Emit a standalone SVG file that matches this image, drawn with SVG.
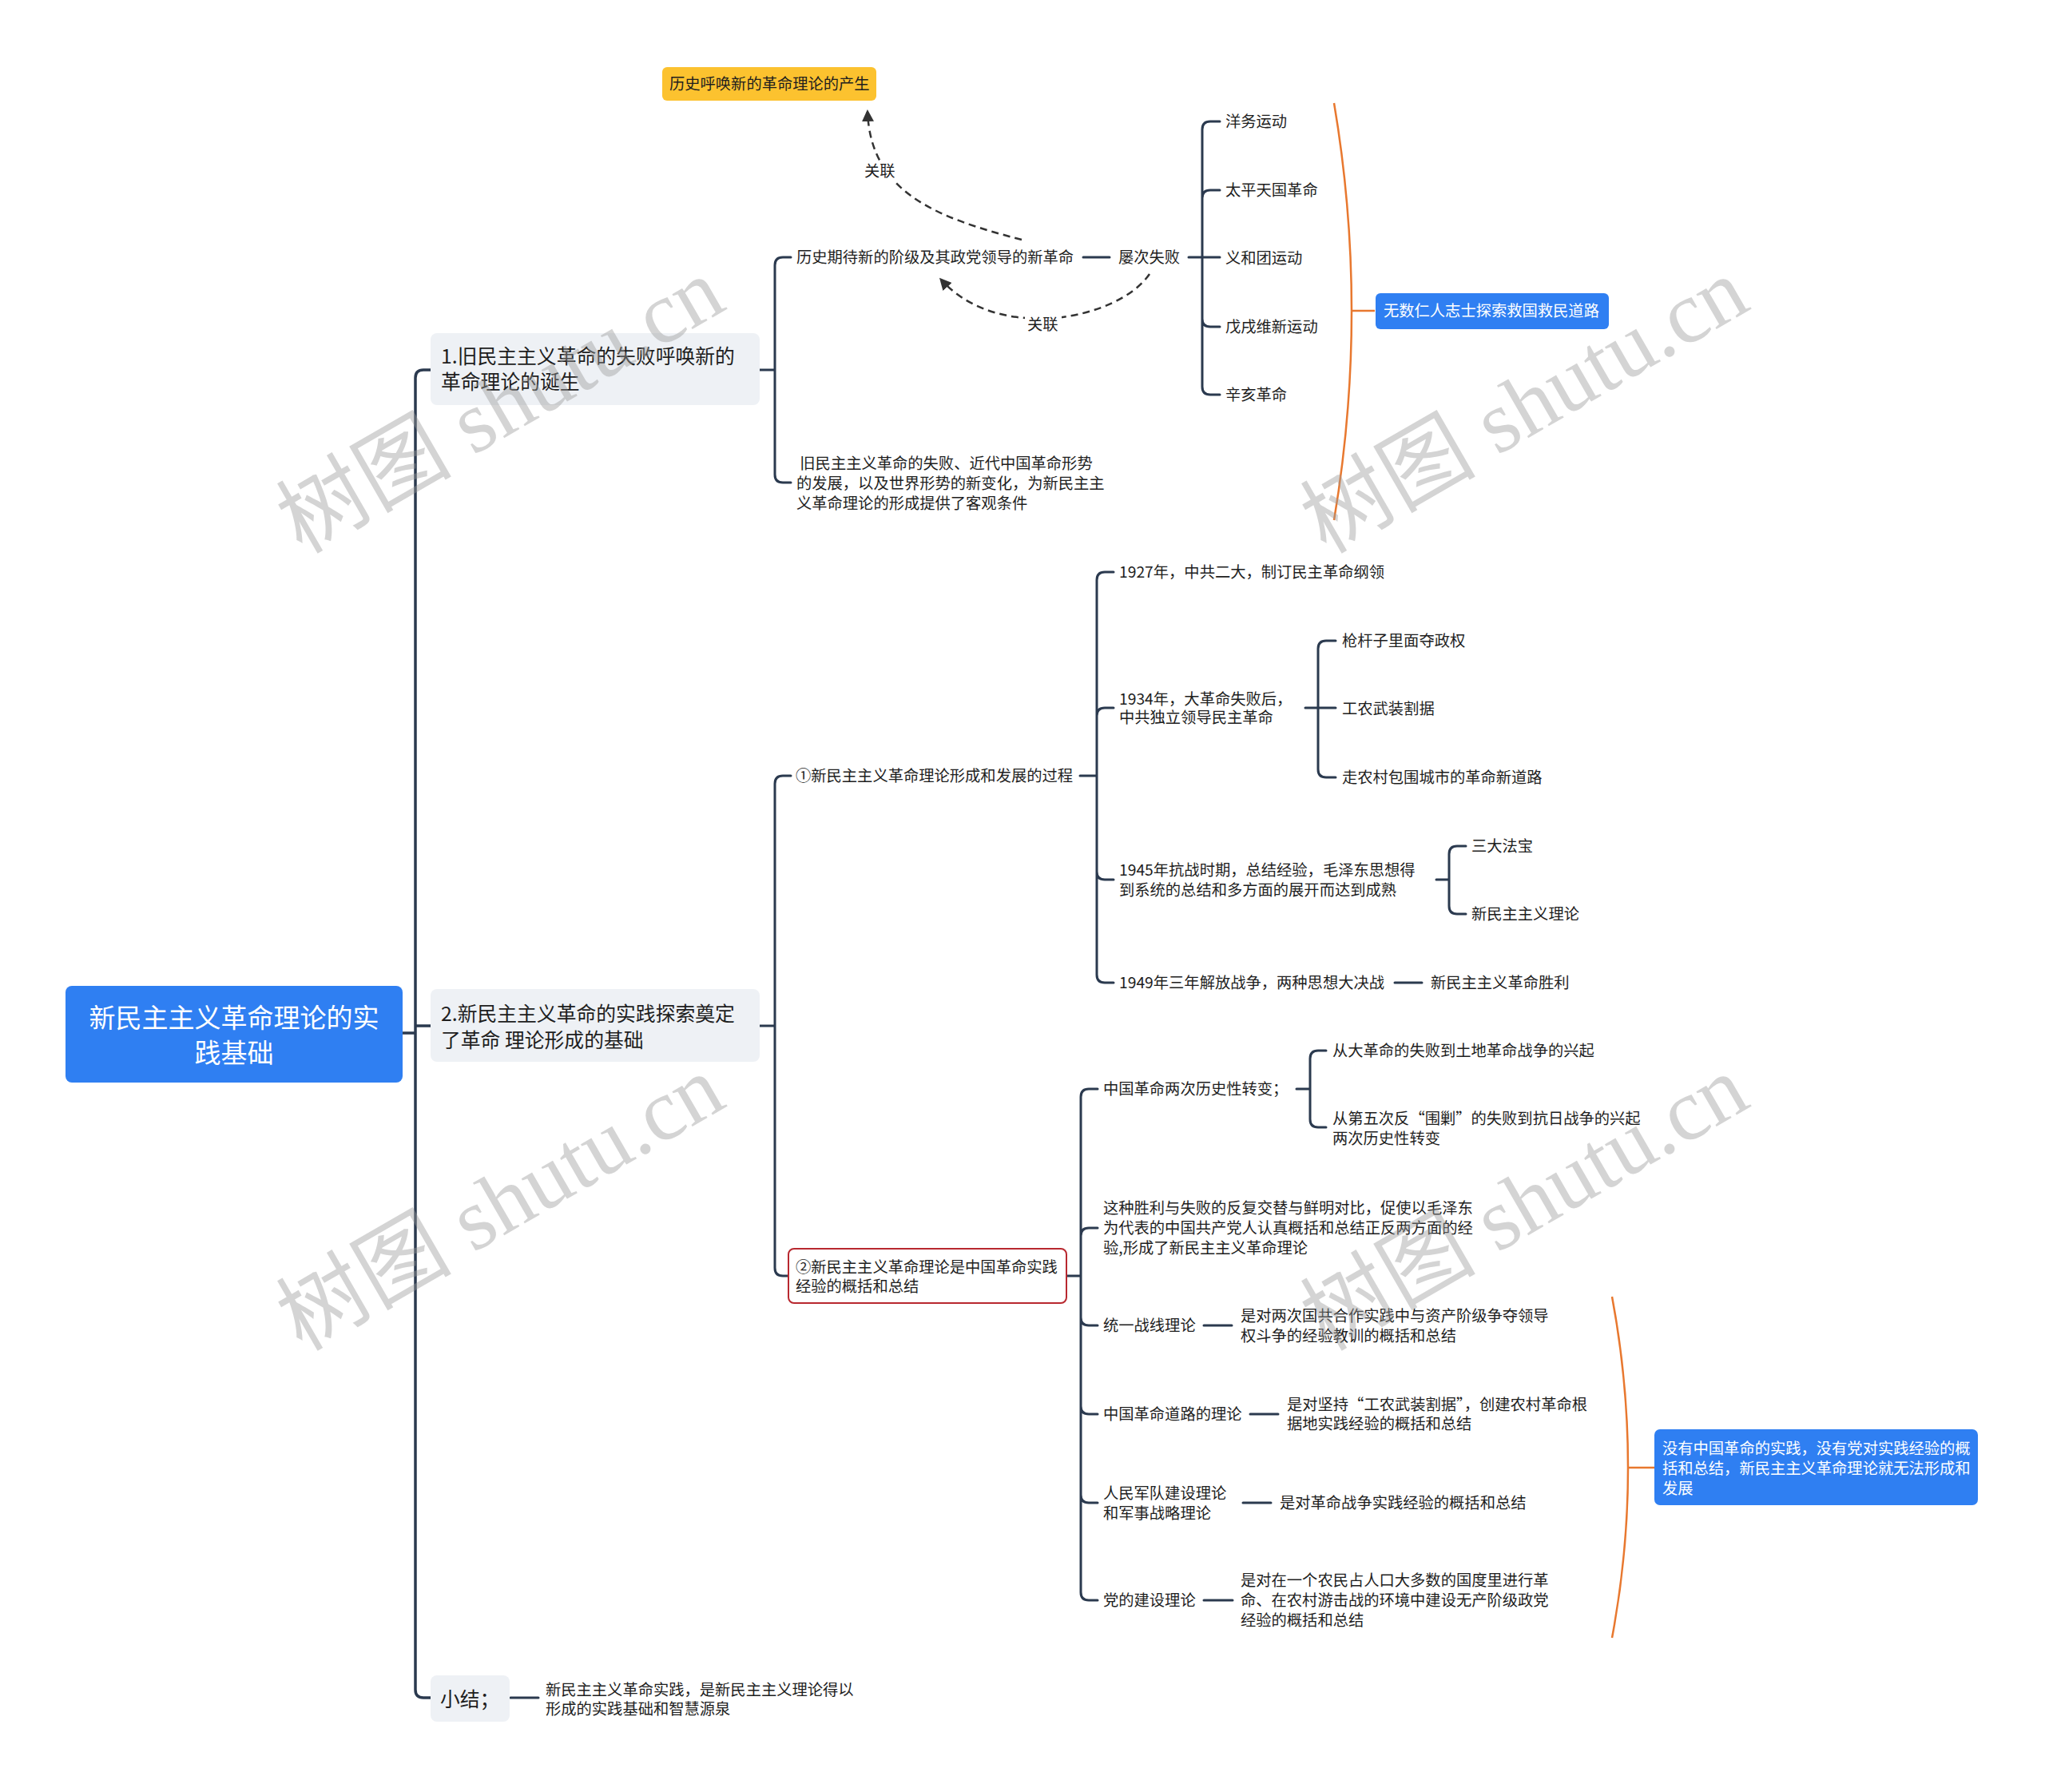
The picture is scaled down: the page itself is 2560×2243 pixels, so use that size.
<svg xmlns="http://www.w3.org/2000/svg" width="2560" height="2243" viewBox="0 0 2560 2243">
<defs>
<style>
.t{font-family:"Noto Sans CJK SC","Noto Sans",sans-serif;font-size:19.3px;fill:#1e1e1e;dominant-baseline:central;white-space:pre}
.tb{font-size:24.8px}
.tw{fill:#ffffff}
.lk{fill:none;stroke:#2b3a4f;stroke-width:3;stroke-linecap:round;stroke-linejoin:round}
.tr{stroke-width:3.5}
.br{fill:none;stroke:#e8782f;stroke-width:2.5}
.da{fill:none;stroke:#333333;stroke-width:2.5;stroke-dasharray:9 6}
.wm{font-family:"Liberation Serif","Noto Sans CJK SC",serif;font-size:110px;fill:#9a9a9a;opacity:0.42}
</style>
<marker id="ah" viewBox="0 0 10 10" refX="8" refY="5" markerWidth="6" markerHeight="6" orient="auto-start-reverse" markerUnits="strokeWidth">
<path d="M0,0 L10,5 L0,10 Z" fill="#333333"/>
</marker>
</defs>
<rect width="2560" height="2243" fill="#ffffff"/>

<g id="connectors">
<path class="lk tr" d="M504 1293 H520 M520 1293 V473 Q520 463 530 463 H539 M520 1284 H539 M520 1293 V2115 Q520 2125 530 2125 H539"/>
<path class="lk" d="M951 463 H970 M970 463 V332 Q970 322 980 322 H990 M970 463 V594 Q970 604 980 604 H990"/>
<path class="lk" d="M1356 322 H1389 M1488 322 H1505 M1505 322 V162 Q1505 152 1515 152 H1527 M1505 322 V248 Q1505 238 1515 238 H1527 M1505 322 H1527 M1505 322 V399 Q1505 409 1515 409 H1527 M1505 322 V484 Q1505 494 1515 494 H1527"/>
<path class="lk" d="M951 1284 H970 M970 1284 V981 Q970 971 980 971 H990 M970 1284 V1587 Q970 1597 980 1597 H987"/>
<path class="lk" d="M1352 971 H1373 M1373 971 V726 Q1373 716 1383 716 H1394 M1373 971 V896 Q1373 886 1383 886 H1394 M1373 971 V1091 Q1373 1101 1383 1101 H1394 M1373 971 V1220 Q1373 1230 1383 1230 H1394"/>
<path class="lk" d="M1634 886 H1650 M1650 886 V812 Q1650 802 1660 802 H1672 M1650 886 H1672 M1650 886 V963 Q1650 973 1660 973 H1672"/>
<path class="lk" d="M1798 1101 H1814 M1814 1101 V1069 Q1814 1059 1824 1059 H1835 M1814 1101 V1134 Q1814 1144 1824 1144 H1835"/>
<path class="lk" d="M1746 1230 H1780"/>
<path class="lk" d="M1335 1597 H1353 M1353 1597 V1373 Q1353 1363 1363 1363 H1374 M1353 1597 V1547 Q1353 1537 1363 1537 H1374 M1353 1597 V1649 Q1353 1659 1363 1659 H1374 M1353 1597 V1760 Q1353 1770 1363 1770 H1374 M1353 1597 V1871 Q1353 1881 1363 1881 H1374 M1353 1597 V1993 Q1353 2003 1363 2003 H1374"/>
<path class="lk" d="M1623 1363 H1640 M1640 1363 V1325 Q1640 1315 1650 1315 H1660 M1640 1363 V1401 Q1640 1411 1650 1411 H1660"/>
<path class="lk" d="M1507 1659 H1542 M1565 1770 H1600 M1556 1881 H1591 M1507 2003 H1543 M639 2125 H674"/>
<path class="br" d="M1670 129 Q1714 389 1670 651 M1692 389 H1721"/>
<path class="br" d="M2018 1623 Q2058 1837 2018 2050 M2038 1837 H2071"/>
<path class="da" d="M1279 300 C1170 272 1090 240 1086 140" marker-end="url(#ah)"/>
<path class="da" d="M1439 343 C1400 400 1250 430 1178 350" marker-end="url(#ah)"/>
<rect x="1078" y="202" width="46" height="24" fill="#ffffff"/>
<text class="t" x="1082" y="213" fill="#333">关联</text>
<rect x="1283" y="393" width="46" height="24" fill="#ffffff"/>
<text class="t" x="1286" y="405" fill="#333">关联</text>
</g>

<g id="root">
<rect x="82" y="1234" width="422" height="121" rx="8" fill="#2f7ff2"/>
<text class="t tw" x="293" y="1272" text-anchor="middle" style="font-size:33px">新民主主义革命理论的实</text>
<text class="t tw" x="293" y="1316" text-anchor="middle" style="font-size:33px">践基础</text>
</g>

<g id="b1">
<rect x="539" y="417" width="412" height="90" rx="8" fill="#eef1f5"/>
<text class="t tb" x="552" y="444">1.旧民主主义革命的失败呼唤新的</text>
<text class="t tb" x="552" y="476">革命理论的诞生</text>
</g>

<g id="b2">
<rect x="539" y="1238" width="412" height="91" rx="8" fill="#eef1f5"/>
<text class="t tb" x="552" y="1267">2.新民主主义革命的实践探索奠定</text>
<text class="t tb" x="552" y="1300">了革命 理论形成的基础</text>
</g>

<g id="b3">
<rect x="539" y="2097" width="99" height="58" rx="8" fill="#eef1f5"/>
<text class="t tb" x="551" y="2125">小结；</text>
</g>

<g id="n-yellow">
<rect x="829" y="84" width="268" height="42" rx="6" fill="#fcc22f"/>
<text class="t" x="838" y="104">历史呼唤新的革命理论的产生</text>
</g>

<g id="n-1-1"><text class="t" x="997" y="321">历史期待新的阶级及其政党领导的新革命</text></g>
<g id="n-1-1-1"><text class="t" x="1400" y="321">屡次失败</text></g>
<g id="n-yw"><text class="t" x="1534" y="151">洋务运动</text></g>
<g id="n-tp"><text class="t" x="1534" y="237">太平天国革命</text></g>
<g id="n-yh"><text class="t" x="1534" y="322">义和团运动</text></g>
<g id="n-wx"><text class="t" x="1534" y="408">戊戌维新运动</text></g>
<g id="n-xh"><text class="t" x="1534" y="493">辛亥革命</text></g>
<g id="n-1-2">
<text class="t" x="997" y="579"> 旧民主主义革命的失败、近代中国革命形势</text>
<text class="t" x="997" y="604">的发展，以及世界形势的新变化，为新民主主</text>
<text class="t" x="997" y="629">义革命理论的形成提供了客观条件</text>
</g>
<g id="n-blue1">
<rect x="1722" y="367" width="292" height="45" rx="6" fill="#2f7ff2"/>
<text class="t tw" x="1732" y="388">无数仁人志士探索救国救民道路</text>
</g>

<g id="n-2-1"><text class="t" x="996" y="970">①新民主主义革命理论形成和发展的过程</text></g>
<g id="n-1927"><text class="t" x="1401" y="715">1927年，中共二大，制订民主革命纲领</text></g>
<g id="n-1934">
<text class="t" x="1401" y="874">1934年，大革命失败后，</text>
<text class="t" x="1401" y="897">中共独立领导民主革命</text>
</g>
<g id="n-qg"><text class="t" x="1680" y="801">枪杆子里面夺政权</text></g>
<g id="n-gn"><text class="t" x="1680" y="886">工农武装割据</text></g>
<g id="n-zn"><text class="t" x="1680" y="972">走农村包围城市的革命新道路</text></g>
<g id="n-1945">
<text class="t" x="1401" y="1088">1945年抗战时期，总结经验，毛泽东思想得</text>
<text class="t" x="1401" y="1113">到系统的总结和多方面的展开而达到成熟</text>
</g>
<g id="n-sd"><text class="t" x="1842" y="1058">三大法宝</text></g>
<g id="n-xm"><text class="t" x="1842" y="1143">新民主主义理论</text></g>
<g id="n-1949"><text class="t" x="1401" y="1229">1949年三年解放战争，两种思想大决战</text></g>
<g id="n-sl"><text class="t" x="1791" y="1229">新民主主义革命胜利</text></g>

<g id="n-2-2">
<rect x="987" y="1563" width="348" height="68" rx="7" fill="#ffffff" stroke="#b8282f" stroke-width="2"/>
<text class="t" x="996" y="1585">②新民主主义革命理论是中国革命实践</text>
<text class="t" x="996" y="1609">经验的概括和总结</text>
</g>
<g id="n-zb"><text class="t" x="1381" y="1362">中国革命两次历史性转变；</text></g>
<g id="n-zb1"><text class="t" x="1668" y="1314">从大革命的失败到土地革命战争的兴起</text></g>
<g id="n-zb2">
<text class="t" x="1668" y="1399">从第五次反“围剿”的失败到抗日战争的兴起</text>
<text class="t" x="1668" y="1424">两次历史性转变</text>
</g>
<g id="n-zs">
<text class="t" x="1381" y="1511">这种胜利与失败的反复交替与鲜明对比，促使以毛泽东</text>
<text class="t" x="1381" y="1536">为代表的中国共产党人认真概括和总结正反两方面的经</text>
<text class="t" x="1381" y="1561">验,形成了新民主主义革命理论</text>
</g>
<g id="n-ty"><text class="t" x="1381" y="1658">统一战线理论</text></g>
<g id="n-ty1">
<text class="t" x="1553" y="1646">是对两次国共合作实践中与资产阶级争夺领导</text>
<text class="t" x="1553" y="1671">权斗争的经验教训的概括和总结</text>
</g>
<g id="n-dl"><text class="t" x="1381" y="1769">中国革命道路的理论</text></g>
<g id="n-dl1">
<text class="t" x="1611" y="1757">是对坚持“工农武装割据”，创建农村革命根</text>
<text class="t" x="1611" y="1781">据地实践经验的概括和总结</text>
</g>
<g id="n-jd">
<text class="t" x="1381" y="1868">人民军队建设理论</text>
<text class="t" x="1381" y="1893">和军事战略理论</text>
</g>
<g id="n-jd1"><text class="t" x="1602" y="1880">是对革命战争实践经验的概括和总结</text></g>
<g id="n-dj"><text class="t" x="1381" y="2002">党的建设理论</text></g>
<g id="n-dj1">
<text class="t" x="1553" y="1977">是对在一个农民占人口大多数的国度里进行革</text>
<text class="t" x="1553" y="2002">命、在农村游击战的环境中建设无产阶级政党</text>
<text class="t" x="1553" y="2027">经验的概括和总结</text>
</g>
<g id="n-blue2">
<rect x="2071" y="1789" width="405" height="95" rx="7" fill="#2f7ff2"/>
<text class="t tw" x="2081" y="1812">没有中国革命的实践，没有党对实践经验的概</text>
<text class="t tw" x="2081" y="1837">括和总结，新民主主义革命理论就无法形成和</text>
<text class="t tw" x="2081" y="1862">发展</text>
</g>
<g id="n-xj">
<text class="t" x="683" y="2114">新民主主义革命实践，是新民主主义理论得以</text>
<text class="t" x="683" y="2138">形成的实践基础和智慧源泉</text>
</g>

<g id="watermark">
<text class="wm" x="0" y="0" text-anchor="middle" transform="translate(645 540) rotate(-30)">树图 shutu.cn</text>
<text class="wm" x="0" y="0" text-anchor="middle" transform="translate(1927 540) rotate(-30)">树图 shutu.cn</text>
<text class="wm" x="0" y="0" text-anchor="middle" transform="translate(645 1538) rotate(-30)">树图 shutu.cn</text>
<text class="wm" x="0" y="0" text-anchor="middle" transform="translate(1927 1538) rotate(-30)">树图 shutu.cn</text>
</g>
</svg>
